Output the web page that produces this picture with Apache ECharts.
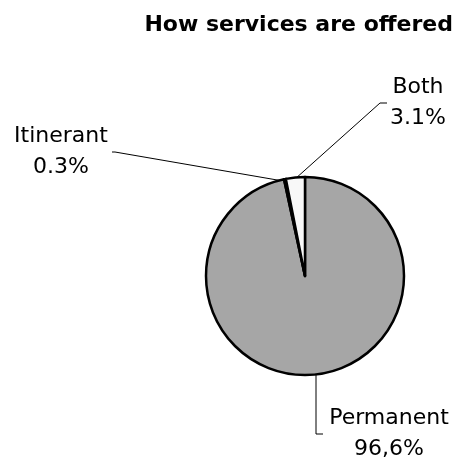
<!DOCTYPE html>
<html>
<head>
<meta charset="utf-8">
<script src="https://cdn.jsdelivr.net/npm/echarts@6/dist/echarts.min.js"></script>
<style>
  html, body { margin: 0; padding: 0; background: #fff; }
  #chart { width: 464px; height: 463px; }
</style>
</head>
<body>
<div id="chart"></div>
<script>
// Service delivery modes, shares in percent (clockwise from 12 o'clock)
const categories = ['Permanent', 'Itinerant', 'Both'];
const shares = [96.6, 0.3, 3.1];
const shareLabels = ['96,6%', '0.3%', '3.1%'];
const chartTitle = 'How services are offered';

const sliceColors = ['#a6a6a6', '#000000', '#f8f8f8'];

// Label anchor placement for each slice: text centre and leader-line path
const labelPlacement = [
  { x: 389, y: 434, line: [[316, 372], [316, 434], [323, 434]] },
  { x: 61,  y: 152, line: [[283, 181], [115, 152], [112, 152]] },
  { x: 418, y: 103, line: [[295, 179], [380, 103], [387, 103]] }
];

const chart = echarts.init(document.getElementById('chart'), null, { renderer: 'canvas' });

chart.setOption({
  backgroundColor: '#ffffff',
  animation: false,
  title: {
    text: chartTitle,
    right: 6,
    top: 9,
    textStyle: {
      fontFamily: 'DejaVu Sans',
      fontSize: 22,
      fontWeight: 'bold',
      color: '#000'
    }
  },
  series: [{
    type: 'pie',
    center: [305, 276],
    radius: [0, 99],
    startAngle: 90,
    clockwise: true,
    avoidLabelOverlap: false,
    itemStyle: { borderColor: '#000', borderWidth: 2.5 },
    label: {
      show: true,
      fontFamily: 'DejaVu Sans',
      fontSize: 22,
      lineHeight: 31,
      color: '#000',
      align: 'center',
      formatter: (p) => p.name + '\n' + shareLabels[p.dataIndex]
    },
    labelLine: {
      show: true,
      lineStyle: { color: '#000', width: 1 }
    },
    labelLayout: (params) => {
      const pl = labelPlacement[params.dataIndex];
      return {
        x: pl.x,
        y: pl.y,
        align: 'center',
        verticalAlign: 'middle',
        labelLinePoints: pl.line
      };
    },
    data: categories.map((name, i) => ({
      name: name,
      value: shares[i],
      itemStyle: { color: sliceColors[i] }
    }))
  }]
});
</script>
</body>
</html>
